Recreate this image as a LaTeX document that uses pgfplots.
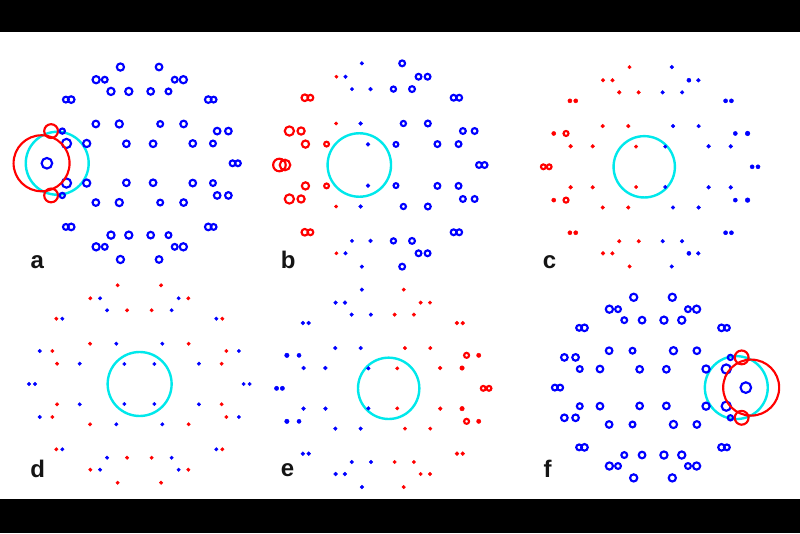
\documentclass[border=0pt]{standalone}
\usepackage{fontspec}
\setmainfont{Liberation Sans}
\usepackage{pgfplots}
\usepackage{pgfplotstable}
\pgfplotsset{compat=1.18}
\definecolor{cyanc}{RGB}{0,232,235}
% base layout (px of panel d, relative to centre); per panel: radius (px) and colour (0 blue, 1 red)
\pgfplotstableread{
x y sa ca sb cb sc cc sd cd se ce sf cf
-21.7 98.7 3.2 0 1.2 0 1.1 1 1.1 1 1.2 0 3.2 0
21.7 98.7 2.9 0 2.5 0 1.2 0 1.1 1 1.1 1 3.2 0
-49.0 85.7 3.2 0 1.0 1 1.2 1 1.1 1 1.3 0 3.2 0
-39.3 85.7 2.5 0 1.2 0 1.2 1 1.1 0 1.3 0 2.5 0
39.3 85.7 2.5 0 2.5 0 1.4 0 1.1 0 1.1 1 2.5 0
49.0 85.7 3.2 0 2.5 0 1.3 0 1.1 1 1.1 1 3.2 0
-32.3 73.7 3.2 0 1.1 0 1.2 1 1.1 0 1.2 0 2.5 0
-12.3 73.7 3.2 0 1.3 0 1.2 1 1.1 1 1.2 0 2.9 0
12.3 73.7 2.9 0 2.2 0 1.2 0 1.1 1 1.1 1 3.2 0
32.3 73.7 2.5 0 2.5 0 1.2 0 1.1 0 1.1 1 3.2 0
-83.0 65.3 2.5 0 2.9 1 1.4 1 1.1 1 1.3 0 2.5 0
-77.0 65.3 2.9 0 2.5 1 1.4 1 1.1 0 1.3 0 2.9 0
77.0 65.3 2.9 0 2.5 0 1.4 0 1.1 0 1.3 1 2.9 0
83.0 65.3 2.5 0 2.5 0 1.4 0 1.1 1 1.3 1 2.5 0
-49.3 40.3 2.9 0 1.0 1 1.2 1 1.1 1 1.2 0 2.9 0
-23.0 40.3 3.2 0 1.3 0 1.2 1 1.1 0 1.2 0 2.5 0
23.0 40.3 2.5 0 2.2 0 1.2 0 1.1 0 1.1 1 3.2 0
49.3 40.3 2.9 0 2.5 0 1.2 0 1.1 1 1.1 1 2.9 0
-99.6 33.0 6.5 1 4.2 1 1.4 1 1.1 0 1.6 0 2.9 0
-87.0 33.0 2.2 0 3.2 1 2.1 1 1.1 1 1.4 0 2.9 0
87.0 33.0 2.9 0 2.5 0 1.4 0 1.1 1 2.1 1 2.2 0
99.6 33.0 2.9 0 2.5 0 1.7 0 1.1 0 1.5 1 6.5 1
-82.3 20.3 4.2 0 3.2 1 1.3 1 1.1 1 1.3 0 2.5 0
-59.6 20.3 3.2 0 2.0 1 1.2 1 1.1 0 1.3 0 2.9 0
-15.0 20.0 2.9 0 1.3 0 1.1 1 1.1 0 1.2 0 2.9 0
15.0 20.0 2.9 0 2.0 0 1.1 0 1.1 0 1.1 1 2.9 0
59.6 20.3 2.9 0 2.5 0 1.3 0 1.1 0 1.3 1 3.2 0
82.3 20.3 2.5 0 2.5 0 1.3 0 1.1 1 1.6 1 4.2 0
-21.7 -98.7 3.2 0 1.2 0 1.1 1 1.1 1 1.2 0 3.2 0
21.7 -98.7 2.9 0 2.5 0 1.2 0 1.1 1 1.1 1 3.2 0
-49.0 -85.7 3.2 0 1.0 1 1.2 1 1.1 1 1.3 0 3.2 0
-39.3 -85.7 2.5 0 1.2 0 1.2 1 1.1 0 1.3 0 2.5 0
39.3 -85.7 2.5 0 2.5 0 1.4 0 1.1 0 1.1 1 2.5 0
49.0 -85.7 3.2 0 2.5 0 1.3 0 1.1 1 1.1 1 3.2 0
-32.3 -73.7 3.2 0 1.1 0 1.2 1 1.1 0 1.2 0 2.5 0
-12.3 -73.7 3.2 0 1.3 0 1.2 1 1.1 1 1.2 0 2.9 0
12.3 -73.7 2.9 0 2.2 0 1.2 0 1.1 1 1.1 1 3.2 0
32.3 -73.7 2.5 0 2.5 0 1.2 0 1.1 0 1.1 1 3.2 0
-83.0 -65.3 2.5 0 2.9 1 1.4 1 1.1 1 1.3 0 2.5 0
-77.0 -65.3 2.9 0 2.5 1 1.4 1 1.1 0 1.3 0 2.9 0
77.0 -65.3 2.9 0 2.5 0 1.4 0 1.1 0 1.3 1 2.9 0
83.0 -65.3 2.5 0 2.5 0 1.4 0 1.1 1 1.3 1 2.5 0
-49.3 -40.3 2.9 0 1.0 1 1.2 1 1.1 1 1.2 0 2.9 0
-23.0 -40.3 3.2 0 1.3 0 1.2 1 1.1 0 1.2 0 2.5 0
23.0 -40.3 2.5 0 2.2 0 1.2 0 1.1 0 1.1 1 3.2 0
49.3 -40.3 2.9 0 2.5 0 1.2 0 1.1 1 1.1 1 2.9 0
-99.6 -33.0 6.5 1 4.2 1 1.4 1 1.1 0 1.6 0 2.9 0
-87.0 -33.0 2.2 0 3.2 1 2.1 1 1.1 1 1.4 0 2.9 0
87.0 -33.0 2.9 0 2.5 0 1.4 0 1.1 1 2.1 1 2.2 0
99.6 -33.0 2.9 0 2.5 0 1.7 0 1.1 0 1.5 1 6.5 1
-82.3 -20.3 4.2 0 3.2 1 1.3 1 1.1 1 1.3 0 2.5 0
-59.6 -20.3 3.2 0 2.0 1 1.2 1 1.1 0 1.3 0 2.9 0
-15.0 -20.0 2.9 0 1.3 0 1.1 1 1.1 0 1.2 0 2.9 0
15.0 -20.0 2.9 0 2.0 0 1.1 0 1.1 0 1.1 1 2.9 0
59.6 -20.3 2.9 0 2.5 0 1.3 0 1.1 0 1.3 1 3.2 0
82.3 -20.3 2.5 0 2.5 0 1.3 0 1.1 1 1.6 1 4.2 0
-110.3 0 27.6 1 5.9 1 2.0 1 1.1 0 1.5 0 2.5 0
-104.3 0 4.9 0 4.9 1 2.0 1 1.1 0 1.5 0 2.5 0
104.3 0 2.5 0 2.5 0 1.4 0 1.1 0 2.0 1 4.9 0
110.3 0 2.5 0 2.5 0 1.4 0 1.1 0 2.0 1 27.6 1
}\layout
\pgfplotsset{
  panel/.style={anchor=center, hide axis, clip=false,
    xmin=-130, xmax=130, ymin=-110, ymax=110,
    colormap={br}{rgb255=(0,0,255) rgb255=(255,0,0)},
    point meta min=0, point meta max=1},
  % open rings (radius >= 1.95 px)
  ring/.style 2 args={scatter, only marks, mark=o, line width=1.6pt,
    mark options={line width=1.6pt},
    scatter/use mapped color={draw=mapped color},
    restrict expr to domain={\thisrow{#1}}{1.95:100},
    point meta=\thisrow{#2},
    visualization depends on={\thisrow{#1}\as\msz},
    scatter/@pre marker code/.append style={/tikz/mark size=0.75pt*\msz+0.3pt}},
  % filled dots (radius < 1.95 px)
  dot/.style 2 args={scatter, only marks, mark=*, line width=0.3pt,
    scatter/use mapped color={draw=mapped color, fill=mapped color},
    restrict expr to domain={\thisrow{#1}}{0:1.95},
    point meta=\thisrow{#2},
    visualization depends on={\thisrow{#1}\as\msz},
    scatter/@pre marker code/.append style={/tikz/mark size=0.75pt*\msz+0.5pt}},
  cyanring/.style={only marks, mark=o, color=cyanc, mark size=#1, line width=1.8pt, mark options={line width=1.8pt}}
}
\newcommand{\lab}[3]{\node[anchor=base west, inner sep=0pt, font=\fontsize{18}{18}\selectfont\bfseries, text=black!92] at (#1,#2) {#3};}
\newcommand{\panel}[2]{%
\addplot[dot={#1}{#2}] table[x=x,y=y]{\layout};
\addplot[ring={#1}{#2}] table[x=x,y=y]{\layout};}
\begin{document}
\begin{tikzpicture}
\fill[black] (0,0) rectangle (600pt,399.75pt);
\fill[white] (0,25.5pt) rectangle (600pt,375.4pt);
% a
\begin{axis}[panel, at={(104.8pt,277.3pt)}, x=0.6675pt, y=0.73125pt]
\addplot[cyanring=23.6pt] coordinates {(-92.7,0)};
\panel{sa}{ca}
\end{axis}
% b
\begin{axis}[panel, at={(286.5pt,276pt)}, x=0.6975pt, y=0.7725pt]
\addplot[cyanring=23.8pt] coordinates {(-24.4,0)};
\panel{sb}{cb}
\end{axis}
% c
\begin{axis}[panel, at={(488.0pt,274.65pt)}, x=0.72975pt, y=0.7575pt]
\addplot[cyanring=23.0pt] coordinates {(-6.6,0)};
\panel{sc}{cc}
\end{axis}
% d
\begin{axis}[panel, at={(104.5pt,111.75pt)}, x=0.75pt, y=0.75pt]
\addplot[cyanring=24.0pt] coordinates {(0.3,0)};
\panel{sd}{cd}
\end{axis}
% e
\begin{axis}[panel, at={(287.1pt,108.5pt)}, x=0.72225pt, y=0.75pt]
\addplot[cyanring=23.0pt] coordinates {(6.1,0)};
\panel{se}{ce}
\end{axis}
% f
\begin{axis}[panel, at={(489.75pt,109.05pt)}, x=0.6675pt, y=0.68625pt]
\addplot[cyanring=23.6pt] coordinates {(93.6,0)};
\panel{sf}{cf}
\end{axis}
\lab{22.7pt}{198.4pt}{a}
\lab{210.4pt}{198.4pt}{b}
\lab{407pt}{198.4pt}{c}
\lab{22.6pt}{42pt}{d}
\lab{210.4pt}{42.4pt}{e}
\lab{407.5pt}{42pt}{f}
\end{tikzpicture}
\end{document}
